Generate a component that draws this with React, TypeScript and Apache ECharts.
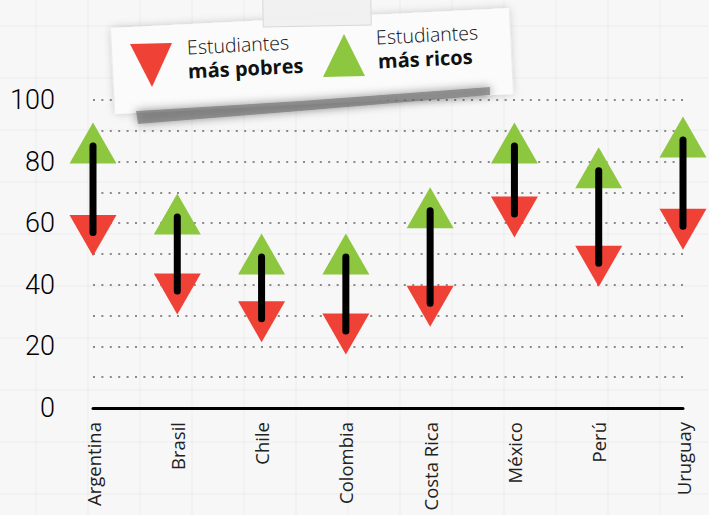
import React, { useEffect, useRef } from "react";
import * as echarts from "echarts";

const categories = ["Argentina", "Brasil", "Chile", "Colombia", "Costa Rica", "México", "Perú", "Uruguay"];
const richValues = [86, 63, 50, 50, 65, 86, 78, 88];
const poorValues = [56, 37, 28, 24, 33, 62, 46, 58];
const yLabelValues = [0, 20, 40, 60, 80, 100];

const RED = "#ef4136";
const GREEN = "#8dc63f";

export default function App() {
  const ref = useRef<HTMLDivElement>(null);
  useEffect(() => {
    document.body.style.margin = "0";
    const chart = echarts.init(ref.current!, null, { renderer: "svg" });
    const rot = 0.05;
    const bgLines: any[] = [];
    for (let x = 36; x < 709; x += 52) {
      bgLines.push({ type: "line", z: 0, silent: true, shape: { x1: x, y1: 0, x2: x, y2: 515 }, style: { stroke: "rgba(0,0,0,0.018)", lineWidth: 2 } });
    }
    for (let y = 26; y < 515; y += 52) {
      bgLines.push({ type: "line", z: 0, silent: true, shape: { x1: 0, y1: y, x2: 709, y2: y }, style: { stroke: "rgba(0,0,0,0.018)", lineWidth: 2 } });
    }
    chart.setOption({
      animation: false,
      backgroundColor: "#f7f7f7",
      grid: { left: 93, right: 26, top: 100, bottom: 107 },
      xAxis: {
        type: "category",
        data: categories,
        boundaryGap: false,
        axisLine: { lineStyle: { color: "#000", width: 3 } },
        axisTick: { show: false },
        splitLine: { show: false },
        axisLabel: {
          rotate: 90,
          fontSize: 18.5,
          fontFamily: "Open Sans",
          color: "#222",
          margin: 14,
        },
      },
      yAxis: {
        type: "value",
        min: 0,
        max: 100,
        interval: 10,
        axisLine: { show: false },
        axisTick: { show: false },
        axisLabel: {
          formatter: (v: number) => (yLabelValues.indexOf(v) >= 0 ? String(v) : ""),
          fontSize: 27,
          fontWeight: 300,
          fontFamily: "Roboto",
          color: "#000",
          margin: 38,
        },
        splitLine: { lineStyle: { color: "#8a8a8a", width: 2, type: [2, 6.4] } },
      },
      graphic: [
        ...bgLines,
        // note paper
        {
          type: "rect",
          z: 11,
          x: 312,
          y: 61,
          rotation: rot,
          shape: { x: -199, y: -43, width: 398, height: 86 },
          style: { fill: "#fbfbfb", shadowBlur: 8, shadowColor: "rgba(0,0,0,0.2)" },
        },
        // shadow smudge
        {
          type: "polygon",
          z: 12,
          shape: { points: [[136, 111], [300, 101], [490, 87], [490, 95], [300, 111], [138, 124]] },
          style: { fill: "#666", opacity: 0.6, shadowBlur: 10, shadowColor: "rgba(0,0,0,0.7)" },
        },
        // tape
        {
          type: "rect",
          z: 13,
          x: 317,
          y: 12,
          rotation: 0.02,
          shape: { x: -54, y: -16, width: 108, height: 30 },
          style: { fill: "rgba(240,240,240,0.95)", stroke: "#d8d8d8", lineWidth: 1 },
        },
        // legend triangles
        {
          type: "polygon",
          z: 14,
          shape: { points: [[130, 44], [172, 43], [152, 87]] },
          style: { fill: RED },
        },
        {
          type: "polygon",
          z: 14,
          shape: { points: [[344, 34], [365, 76], [323, 77]] },
          style: { fill: GREEN },
        },
        // legend texts
        {
          type: "text",
          z: 14,
          x: 187,
          y: 47,
          rotation: rot,
          style: { text: "Estudiantes", fontSize: 19.5, fontWeight: 300, fontFamily: "Open Sans", fill: "#111", textVerticalAlign: "middle" },
        },
        {
          type: "text",
          z: 14,
          x: 188,
          y: 71,
          rotation: rot,
          style: { text: "más pobres", fontSize: 20, fontWeight: "bold", fontFamily: "Open Sans", fill: "#111", textVerticalAlign: "middle" },
        },
        {
          type: "text",
          z: 14,
          x: 376,
          y: 37,
          rotation: rot,
          style: { text: "Estudiantes", fontSize: 19.5, fontWeight: 300, fontFamily: "Open Sans", fill: "#111", textVerticalAlign: "middle" },
        },
        {
          type: "text",
          z: 14,
          x: 378,
          y: 61,
          rotation: rot,
          style: { text: "más ricos", fontSize: 20, fontWeight: "bold", fontFamily: "Open Sans", fill: "#111", textVerticalAlign: "middle" },
        },
      ],
      series: [
        {
          name: "Estudiantes más pobres",
          type: "scatter",
          data: poorValues,
          symbol: "triangle",
          symbolRotate: 180,
          symbolSize: [47, 41],
          itemStyle: { color: RED, opacity: 1 },
          z: 3,
        },
        {
          name: "Estudiantes más ricos",
          type: "scatter",
          data: richValues,
          symbol: "triangle",
          symbolSize: [47, 41],
          itemStyle: { color: GREEN, opacity: 1 },
          z: 3,
        },
        {
          type: "custom",
          z: 4,
          data: categories.map((c, i) => [i, richValues[i], poorValues[i]]),
          renderItem: (params: any, api: any) => {
            const i = api.value(0);
            const p1 = api.coord([i, api.value(1)]);
            const p2 = api.coord([i, api.value(2)]);
            return {
              type: "line",
              shape: { x1: p1[0], y1: p1[1] + 3, x2: p2[0], y2: p2[1] - 3 },
              style: { stroke: "#000", lineWidth: 7, lineCap: "round" },
            };
          },
        },
      ],
    });
    return () => chart.dispose();
  }, []);
  return <div ref={ref} style={{ width: 709, height: 515 }} />;
}
